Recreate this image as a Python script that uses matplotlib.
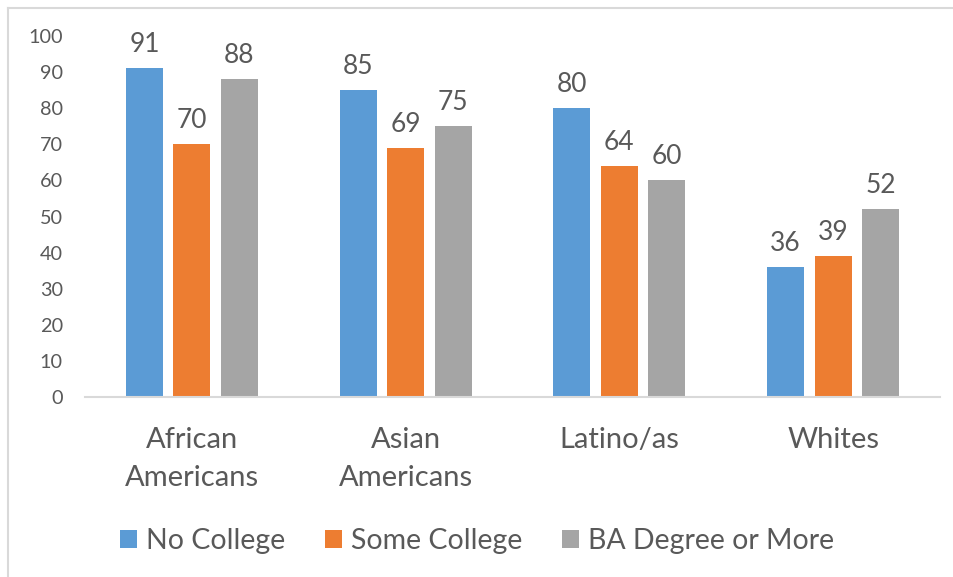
import matplotlib
matplotlib.use("Agg")
import matplotlib.pyplot as plt
from matplotlib.lines import Line2D
from matplotlib.patches import Patch
import numpy as np

categories = ["African\nAmericans", "Asian\nAmericans", "Latino/as", "Whites"]
series_names = ["No College", "Some College", "BA Degree or More"]
no_college = [91, 85, 80, 36]
some_college = [70, 69, 64, 39]
ba_or_more = [88, 75, 60, 52]
y_ticks = [0, 10, 20, 30, 40, 50, 60, 70, 80, 90, 100]

colors = ["#5b9bd5", "#ed7d31", "#a5a5a5"]
text_color = "#595959"
font = "Lato"

fig = plt.figure(figsize=(9.54, 5.77), dpi=100)
ax = fig.add_axes([85 / 954, 180 / 577, 855 / 954, 361 / 577])

x = np.arange(len(categories))
width = 0.173
offset = 0.222
for i, (vals, name) in enumerate(zip([no_college, some_college, ba_or_more], series_names)):
    bars = ax.bar(x + (i - 1) * offset, vals, width, color=colors[i], label=name)
    for b, v in zip(bars, vals):
        ax.annotate(str(v), (b.get_x() + b.get_width() / 2, v), xytext=(0, 8),
                    textcoords="offset points", ha="center", va="bottom",
                    fontsize=19, color=text_color, family=font)

ax.set_xlim(-0.5, len(categories) - 0.5)
ax.set_ylim(0, 100)
ax.set_yticks(y_ticks)
ax.set_yticklabels([str(t) for t in y_ticks], fontsize=14.3, color=text_color, family=font)
ax.set_xticks(x)
ax.set_xticklabels(categories, fontsize=21, color=text_color, family=font, linespacing=1.58)
ax.tick_params(axis="y", length=0, pad=16)
ax.tick_params(axis="x", length=0, pad=21.5)
for s in ["top", "right", "left"]:
    ax.spines[s].set_visible(False)
ax.spines["bottom"].set_color("#d9d9d9")
ax.spines["bottom"].set_linewidth(1.5)

handles = [Patch(facecolor=c, edgecolor="none") for c in colors]
leg = fig.legend(handles, series_names, loc="center", bbox_to_anchor=(0.5, 1 - 541 / 577),
                 ncol=3, frameon=False, handlelength=0.6, handleheight=0.6,
                 handletextpad=0.3, columnspacing=1.4,
                 prop={"family": font, "size": 20.5})
for t in leg.get_texts():
    t.set_color(text_color)

# chart frame lines (top and left)
fig.add_artist(Line2D([8.5 / 954, 1], [1 - 7.5 / 577, 1 - 7.5 / 577], color="#d9d9d9", lw=1.5,
                      transform=fig.transFigure))
fig.add_artist(Line2D([8.5 / 954, 8.5 / 954], [0, 1 - 7.5 / 577], color="#d9d9d9", lw=1.5,
                      transform=fig.transFigure))

fig.savefig("out.png", dpi=100, facecolor="white")
